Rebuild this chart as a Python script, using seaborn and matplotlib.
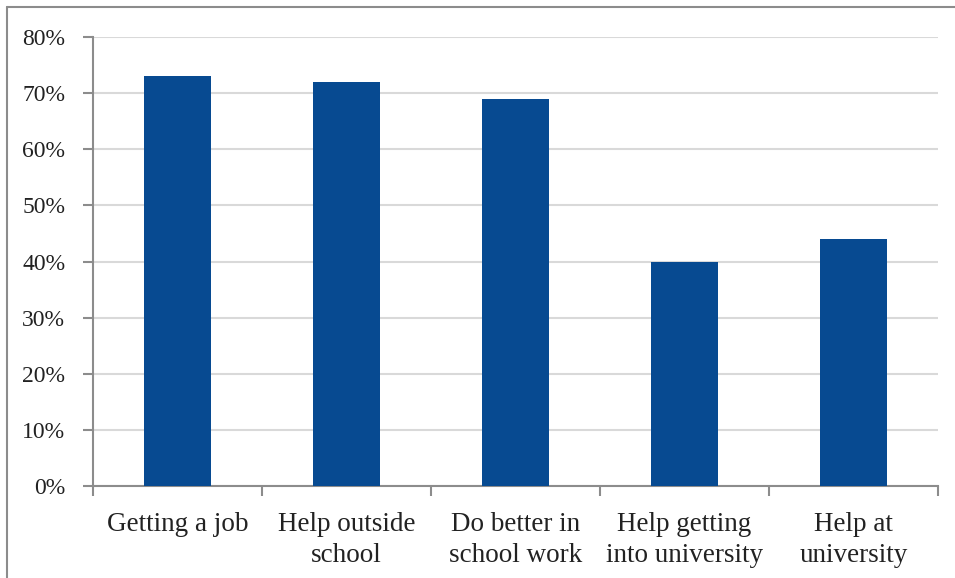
import matplotlib
matplotlib.use("Agg")
import matplotlib.pyplot as plt
from matplotlib.lines import Line2D
from matplotlib.ticker import FixedLocator, PercentFormatter
import pandas as pd
import seaborn as sns

categories = [
    "Getting a job",
    "Help outside\nschool",
    "Do better in\nschool work",
    "Help getting\ninto university",
    "Help at\nuniversity",
]
values = [73, 72, 69, 40, 44]
y_ticks = [0, 10, 20, 30, 40, 50, 60, 70, 80]

sns.set_style("white")
plt.rcParams["font.family"] = ["Liberation Serif", "DejaVu Serif"]

df = pd.DataFrame({"category": categories, "value": values})

fig = plt.figure(figsize=(9.55, 5.78), dpi=100)
ax = fig.add_axes([93 / 955, 1 - 486 / 578, (938 - 93) / 955, (486 - 37) / 578])

sns.barplot(data=df, x="category", y="value", color="#074A91", saturation=1,
            width=0.40, linewidth=0, ax=ax, zorder=3)

ax.set_ylim(0, 80)
ax.set_xlim(-0.5, len(categories) - 0.5)
ax.set_yticks(y_ticks)
ax.yaxis.set_major_formatter(PercentFormatter(decimals=0))
ax.grid(axis="y", color="#D9D9D9", linewidth=1.5, zorder=0)
ax.set_axisbelow(True)

# x ticks at category boundaries, labels centred under bars
ax.xaxis.set_major_locator(FixedLocator([i - 0.5 for i in range(len(categories) + 1)]))
ax.xaxis.set_major_formatter(plt.NullFormatter())
ax.xaxis.set_minor_locator(FixedLocator(range(len(categories))))
ax.set_xticklabels(categories, minor=True, linespacing=1.3)
ax.tick_params(axis="x", which="minor", bottom=True, length=0, pad=19, labelsize=19.5,
               labelcolor="#222222")
ax.tick_params(axis="x", which="major", bottom=True, direction="out", length=7, width=1.5,
               color="#8C8C8C")
ax.tick_params(axis="y", left=True, direction="out", length=7, width=1.5, color="#8C8C8C",
               pad=13, labelsize=17, labelcolor="#222222")

for side in ["top", "right"]:
    ax.spines[side].set_visible(False)
for side in ["left", "bottom"]:
    ax.spines[side].set_color("#8C8C8C")
    ax.spines[side].set_linewidth(1.5)

ax.set_xlabel("")
ax.set_ylabel("")

# outer frame (left and top edges visible)
fig.add_artist(Line2D([7 / 955, 7 / 955], [0, 1 - 7 / 578], transform=fig.transFigure,
                      color="#8C8C8C", linewidth=1.5))
fig.add_artist(Line2D([7 / 955, 1], [1 - 7 / 578, 1 - 7 / 578], transform=fig.transFigure,
                      color="#8C8C8C", linewidth=1.5))

fig.savefig("out.png", dpi=100)
